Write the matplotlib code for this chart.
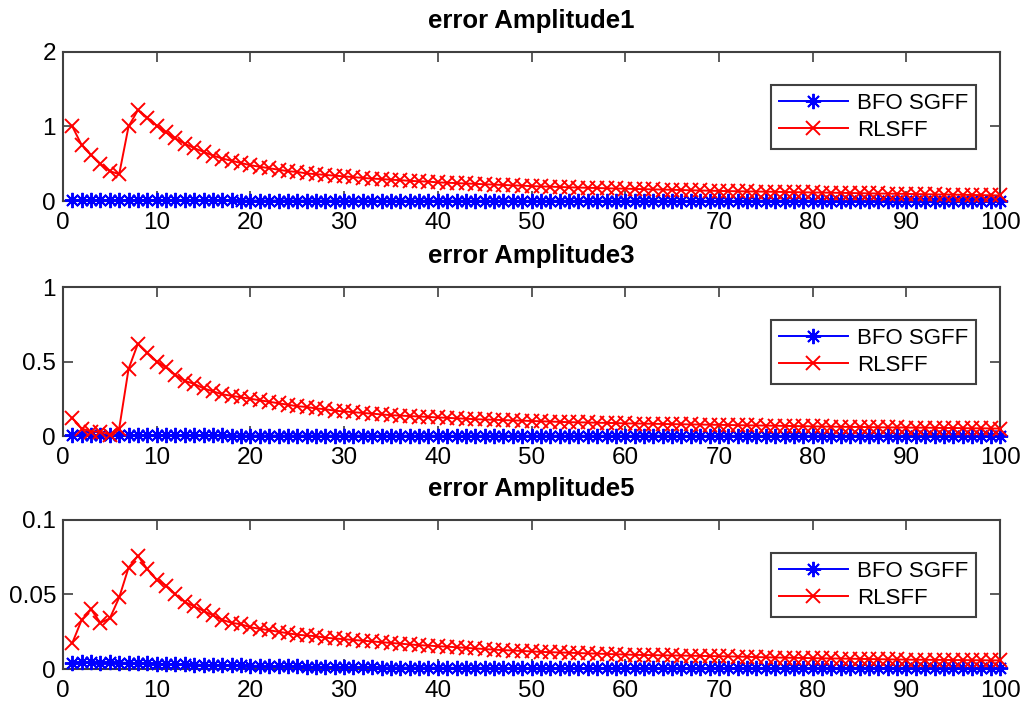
import matplotlib
matplotlib.use("Agg")
import matplotlib.pyplot as plt
import numpy as np

plt.rcParams['font.family'] = ['Liberation Sans', 'DejaVu Sans']

x = np.arange(1, 101)

titles = ["error Amplitude1", "error Amplitude3", "error Amplitude5"]
labels = ["BFO SGFF", "RLSFF"]
ylims = [(0, 2), (0, 1), (0, 0.1)]
yticks = [[0, 1, 2], [0, 0.5, 1], [0, 0.05, 0.1]]
yticklabels = [["0", "1", "2"], ["0", "0.5", "1"], ["0", "0.05", "0.1"]]
xticks = [0, 10, 20, 30, 40, 50, 60, 70, 80, 90, 100]

# RLSFF error, amplitude 1
rls1 = [1.00, 0.75, 0.62, 0.50, 0.40, 0.36, 1.00, 1.22, 1.12, 1.01,
        0.92, 0.84, 0.77, 0.71, 0.66, 0.61, 0.57, 0.54, 0.51, 0.48,
        0.46, 0.44, 0.42, 0.40, 0.39, 0.37, 0.36, 0.35, 0.34, 0.33,
        0.32, 0.31, 0.30, 0.295, 0.285, 0.28, 0.27, 0.265, 0.26, 0.25,
        0.245, 0.24, 0.235, 0.23, 0.225, 0.22, 0.215, 0.21, 0.205, 0.20,
        0.196, 0.192, 0.188, 0.184, 0.180, 0.177, 0.174, 0.171, 0.168, 0.165,
        0.162, 0.159, 0.156, 0.153, 0.150, 0.147, 0.144, 0.141, 0.138, 0.135,
        0.133, 0.131, 0.129, 0.127, 0.125, 0.123, 0.121, 0.119, 0.117, 0.115,
        0.113, 0.111, 0.109, 0.107, 0.105, 0.103, 0.101, 0.099, 0.097, 0.095,
        0.093, 0.091, 0.089, 0.087, 0.085, 0.083, 0.081, 0.079, 0.077, 0.075]

# RLSFF error, amplitude 3
rls3 = [0.12, 0.05, 0.03, 0.03, 0.01, 0.05, 0.45, 0.62, 0.56, 0.50,
        0.46, 0.41, 0.37, 0.35, 0.32, 0.30, 0.28, 0.27, 0.26, 0.25,
        0.24, 0.23, 0.22, 0.21, 0.20, 0.195, 0.185, 0.18, 0.17, 0.165,
        0.160, 0.155, 0.150, 0.145, 0.140, 0.137, 0.134, 0.131, 0.128, 0.125,
        0.122, 0.119, 0.116, 0.113, 0.111, 0.109, 0.107, 0.105, 0.103, 0.101,
        0.099, 0.097, 0.095, 0.093, 0.092, 0.091, 0.089, 0.088, 0.087, 0.085,
        0.084, 0.083, 0.082, 0.081, 0.080, 0.079, 0.078, 0.077, 0.076, 0.075,
        0.074, 0.073, 0.072, 0.071, 0.070, 0.069, 0.068, 0.067, 0.066, 0.065,
        0.064, 0.063, 0.062, 0.061, 0.061, 0.060, 0.059, 0.058, 0.058, 0.057,
        0.056, 0.056, 0.055, 0.054, 0.054, 0.053, 0.052, 0.052, 0.051, 0.050]

# RLSFF error, amplitude 5
rls5 = [0.0175, 0.033, 0.040, 0.031, 0.034, 0.048, 0.068, 0.076, 0.067, 0.060,
        0.056, 0.050, 0.045, 0.042, 0.039, 0.036, 0.033, 0.031, 0.030, 0.028,
        0.027, 0.026, 0.025, 0.024, 0.023, 0.0225, 0.022, 0.021, 0.0205, 0.020,
        0.0195, 0.019, 0.0185, 0.018, 0.0175, 0.017, 0.0165, 0.016, 0.0157, 0.0153,
        0.0150, 0.0146, 0.0142, 0.0138, 0.0134, 0.0130, 0.0127, 0.0124, 0.0121, 0.0118,
        0.0115, 0.0113, 0.0111, 0.0109, 0.0107, 0.0105, 0.0103, 0.0101, 0.0099, 0.0097,
        0.0095, 0.0094, 0.0093, 0.0092, 0.0091, 0.0090, 0.0089, 0.0088, 0.0087, 0.0086,
        0.0085, 0.0083, 0.0082, 0.0080, 0.0079, 0.0077, 0.0076, 0.0075, 0.0074, 0.0073,
        0.0072, 0.0071, 0.0070, 0.0069, 0.0068, 0.0067, 0.0066, 0.0065, 0.0064, 0.0063,
        0.0062, 0.0062, 0.0061, 0.0061, 0.0060, 0.0060, 0.0059, 0.0059, 0.0058, 0.0058]

# BFO SGFF error (close to zero everywhere)
bfo1 = [0.012, 0.011, 0.011, 0.010, 0.010, 0.010, 0.009, 0.009, 0.009, 0.008,
        0.008, 0.008, 0.008, 0.007, 0.007, 0.007, 0.007, 0.007, 0.006, 0.006,
        0.006, 0.006, 0.006, 0.006, 0.005, 0.005, 0.005, 0.005, 0.005, 0.005,
        0.005, 0.005, 0.004, 0.004, 0.004, 0.004, 0.004, 0.004, 0.004, 0.004,
        0.004, 0.004, 0.004, 0.003, 0.003, 0.003, 0.003, 0.003, 0.003, 0.003,
        0.003, 0.003, 0.003, 0.003, 0.003, 0.003, 0.003, 0.003, 0.003, 0.003,
        0.003, 0.003, 0.003, 0.003, 0.002, 0.002, 0.002, 0.002, 0.002, 0.002,
        0.002, 0.002, 0.002, 0.002, 0.002, 0.002, 0.002, 0.002, 0.002, 0.002,
        0.002, 0.002, 0.002, 0.002, 0.002, 0.002, 0.002, 0.002, 0.002, 0.002,
        0.002, 0.002, 0.002, 0.002, 0.002, 0.002, 0.002, 0.002, 0.002, 0.002]

bfo3 = [0.006, 0.006, 0.006, 0.005, 0.005, 0.005, 0.005, 0.005, 0.005, 0.004,
        0.004, 0.004, 0.004, 0.004, 0.004, 0.004, 0.004, 0.003, 0.003, 0.003,
        0.003, 0.003, 0.003, 0.003, 0.003, 0.003, 0.003, 0.003, 0.003, 0.003,
        0.003, 0.003, 0.002, 0.002, 0.002, 0.002, 0.002, 0.002, 0.002, 0.002,
        0.002, 0.002, 0.002, 0.002, 0.002, 0.002, 0.002, 0.002, 0.002, 0.002,
        0.002, 0.002, 0.002, 0.002, 0.002, 0.002, 0.002, 0.002, 0.002, 0.002,
        0.002, 0.002, 0.002, 0.002, 0.001, 0.001, 0.001, 0.001, 0.001, 0.001,
        0.001, 0.001, 0.001, 0.001, 0.001, 0.001, 0.001, 0.001, 0.001, 0.001,
        0.001, 0.001, 0.001, 0.001, 0.001, 0.001, 0.001, 0.001, 0.001, 0.001,
        0.001, 0.001, 0.001, 0.001, 0.001, 0.001, 0.001, 0.001, 0.001, 0.001]

bfo5 = [0.0040, 0.0045, 0.0045, 0.0042, 0.0045, 0.0042, 0.0042, 0.0040, 0.0038, 0.0036,
        0.0034, 0.0032, 0.0031, 0.0030, 0.0028, 0.0027, 0.0026, 0.0025, 0.0024, 0.0022,
        0.0021, 0.0020, 0.0019, 0.0018, 0.0017, 0.0016, 0.0015, 0.0014, 0.0013, 0.0012,
        0.0012, 0.0011, 0.0011, 0.0010, 0.0010, 0.0010, 0.0009, 0.0009, 0.0009, 0.0009,
        0.0008, 0.0008, 0.0008, 0.0008, 0.0008, 0.0007, 0.0007, 0.0007, 0.0007, 0.0007,
        0.0007, 0.0007, 0.0006, 0.0006, 0.0006, 0.0006, 0.0006, 0.0006, 0.0006, 0.0006,
        0.0006, 0.0006, 0.0005, 0.0005, 0.0005, 0.0005, 0.0005, 0.0005, 0.0005, 0.0005,
        0.0005, 0.0005, 0.0005, 0.0005, 0.0005, 0.0005, 0.0005, 0.0005, 0.0005, 0.0005,
        0.0005, 0.0005, 0.0005, 0.0005, 0.0005, 0.0005, 0.0005, 0.0005, 0.0005, 0.0005,
        0.0005, 0.0005, 0.0005, 0.0005, 0.0005, 0.0005, 0.0005, 0.0005, 0.0005, 0.0005]

bfo_all = [bfo1, bfo3, bfo5]
rls_all = [rls1, rls3, rls5]

fig = plt.figure(figsize=(10.22, 7.09), dpi=100)

# axes rectangles in figure fraction (MATLAB subplot layout)
left, width, height = 0.0616, 0.917, 0.2102
bottoms = [0.7165, 0.385, 0.0564]

axis_col = '#404040'
asterisk = (8, 2, 0)

for i in range(3):
    ax = fig.add_axes([left, bottoms[i], width, height])
    ax.plot(x, bfo_all[i], color='blue', lw=1.4, marker=asterisk,
            ms=11, mew=1.4, label=labels[0], clip_on=False, zorder=3)
    ax.plot(x, rls_all[i], color='red', lw=1.4, marker='x',
            ms=10.5, mew=1.4, label=labels[1], clip_on=False, zorder=4)
    ax.set_xlim(0, 100)
    ax.set_ylim(*ylims[i])
    ax.set_xticks(xticks)
    ax.set_yticks(yticks[i])
    ax.set_yticklabels(yticklabels[i])
    ax.tick_params(direction='in', length=7, width=1.2, top=True, right=True,
                   labelsize=17.5, colors='black')
    ax.tick_params(axis='x', pad=8)
    ax.tick_params(axis='y', pad=5)
    ax.tick_params(color=axis_col)
    for sp in ax.spines.values():
        sp.set_color(axis_col)
        sp.set_linewidth(1.5)
    ax.set_title(titles[i], fontsize=18.5, fontweight='bold', pad=17)
    leg = ax.legend(loc='upper right', bbox_to_anchor=(0.974, 0.78),
                    fontsize=16, handlelength=3.1, borderaxespad=0,
                    fancybox=False, framealpha=1, edgecolor=axis_col,
                    borderpad=0.35, labelspacing=0.3, handletextpad=0.4)
    leg.get_frame().set_linewidth(1.5)

fig.savefig("out.png", dpi=100)
